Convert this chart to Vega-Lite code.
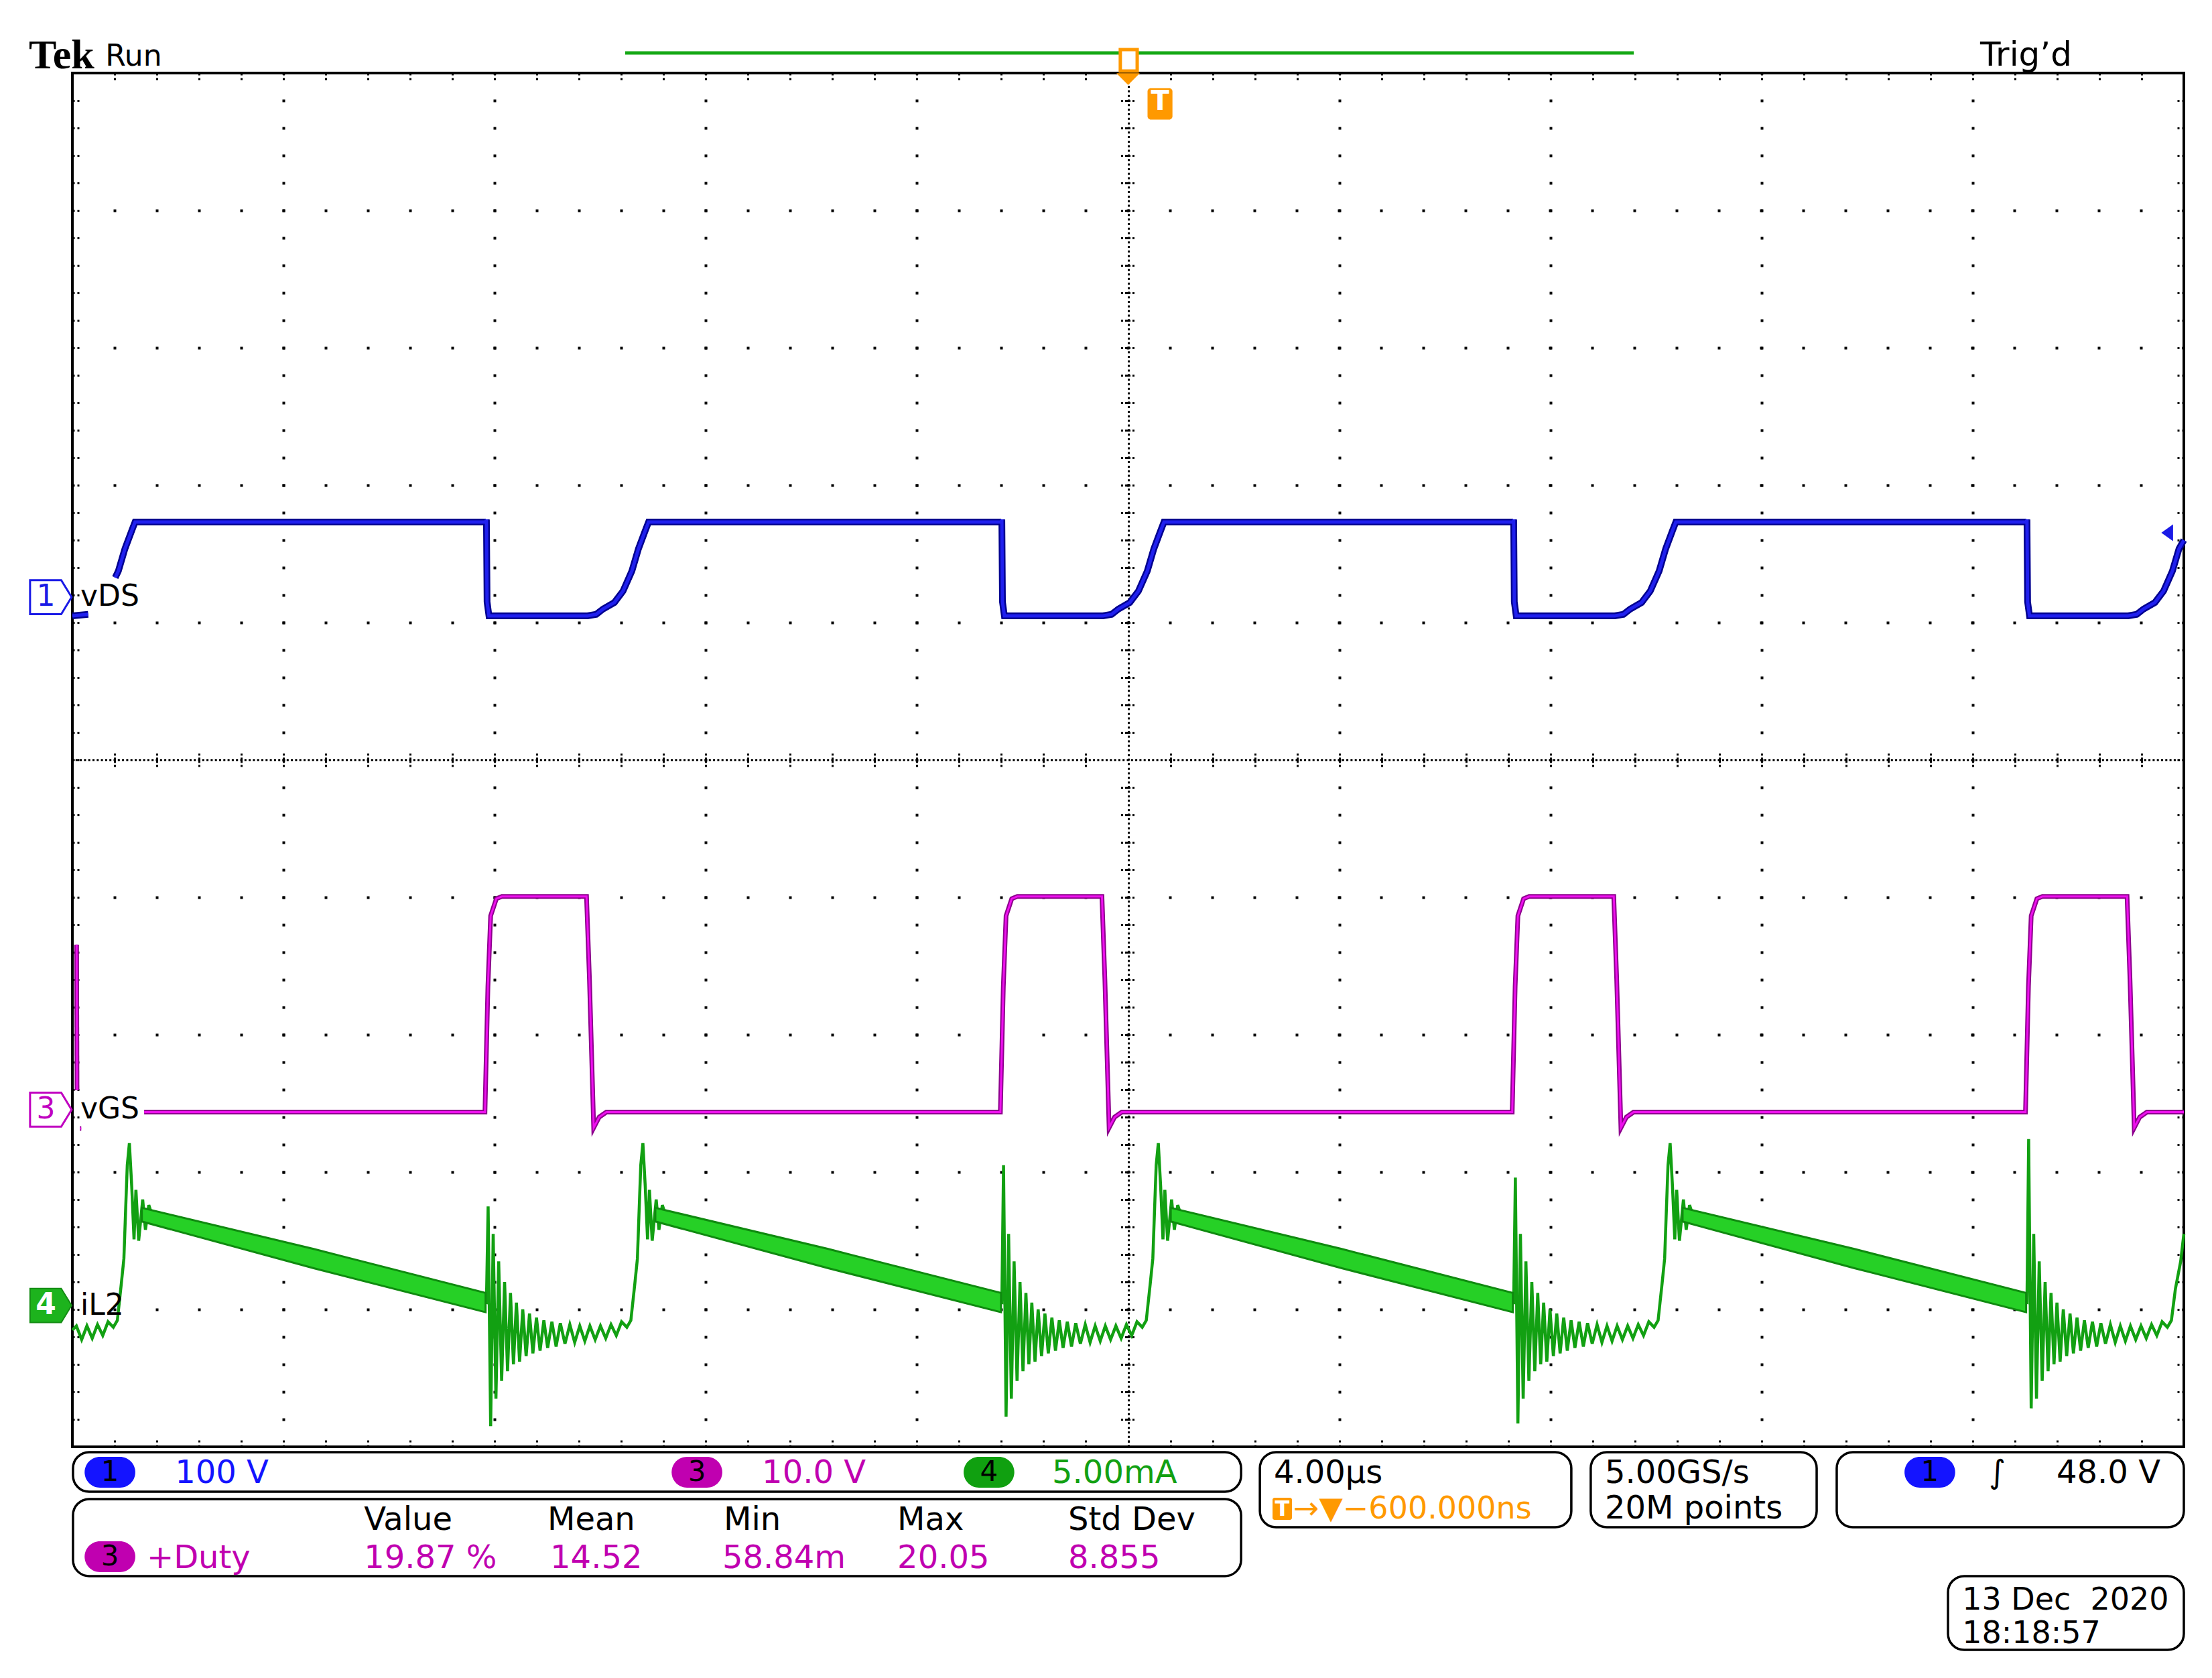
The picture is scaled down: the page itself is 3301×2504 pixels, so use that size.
{
  "$schema": "https://vega.github.io/schema/vega-lite/v6.json",
  "width": 3151,
  "height": 2050,
  "autosize": {"type": "none"},
  "padding": {"left": 108, "top": 109, "right": 42, "bottom": 345},
  "background": "white",
  "config": {"view": {"stroke": null}, "text": {"font": "DejaVu Sans"}},
  "resolve": {"axis": {"x": "independent", "y": "independent"}},
  "encoding": {
    "x": {"field": "x", "type": "quantitative", "scale": {"domain": [0, 10], "nice": false, "zero": false}, "axis": null},
    "y": {"field": "y", "type": "quantitative", "scale": {"domain": [-5, 5], "nice": false, "zero": false}, "axis": null}
  },
  "layer": [
    {
      "data": {"values": [{"x": 0, "x2": 10, "y": -5, "y2": 5}]},
      "mark": {"type": "rect", "fill": "white", "fillOpacity": 0, "stroke": "black", "strokeWidth": 4},
      "encoding": {
        "x": {"field": "x", "type": "quantitative", "scale": {"domain": [0, 10], "nice": false, "zero": false},
          "axis": {"orient": "bottom", "values": [0,0.2,0.4,0.6,0.8,1,1.2,1.4,1.6,1.8,2,2.2,2.4,2.6,2.8,3,3.2,3.4,3.6,3.8,4,4.2,4.4,4.6,4.8,5,5.2,5.4,5.6,5.8,6,6.2,6.4,6.6,6.8,7,7.2,7.4,7.6,7.8,8,8.2,8.4,8.6,8.8,9,9.2,9.4,9.6,9.8,10],
            "labels": false, "title": null, "domain": false, "ticks": true, "tickSize": -10, "tickWidth": 3, "tickColor": "black", "tickDash": [3, 4],
            "grid": true, "gridColor": "black",
            "gridWidth": {"condition": {"test": "datum.value === 5", "value": 3}, "value": 4},
            "gridDash": {"condition": {"test": "datum.value === 5", "value": [3, 3.83]}, "value": [4, 37]},
            "gridDashOffset": 2,
            "gridOpacity": {"condition": {"test": "datum.value % 1 === 0 && datum.value > 0 && datum.value < 10", "value": 1}, "value": 0}}},
        "x2": {"field": "x2"},
        "y": {"field": "y", "type": "quantitative", "scale": {"domain": [-5, 5], "nice": false, "zero": false},
          "axis": {"orient": "left", "values": [-5,-4.8,-4.6,-4.4,-4.2,-4,-3.8,-3.6,-3.4,-3.2,-3,-2.8,-2.6,-2.4,-2.2,-2,-1.8,-1.6,-1.4,-1.2,-1,-0.8,-0.6,-0.4,-0.2,0,0.2,0.4,0.6,0.8,1,1.2,1.4,1.6,1.8,2,2.2,2.4,2.6,2.8,3,3.2,3.4,3.6,3.8,4,4.2,4.4,4.6,4.8,5],
            "labels": false, "title": null, "domain": false, "ticks": true, "tickSize": -10, "tickWidth": 3, "tickColor": "black", "tickDash": [3, 4],
            "grid": true, "gridColor": "black",
            "gridWidth": {"condition": {"test": "datum.value === 0", "value": 3}, "value": 4},
            "gridDash": {"condition": {"test": "datum.value === 0", "value": [3, 3.3]}, "value": [4, 59]},
            "gridDashOffset": 2,
            "gridOpacity": {"condition": {"test": "datum.value % 1 === 0 && datum.value > -5 && datum.value < 5", "value": 1}, "value": 0}}},
        "y2": {"field": "y2"}
      }
    },
    {
      "data": {"values": [{"x": 2.618, "x2": 7.395, "y": 5.146}]},
      "mark": {"type": "rule", "stroke": "#14a814", "strokeWidth": 5},
      "encoding": {
        "x": {"field": "x", "type": "quantitative", "scale": {"domain": [0, 10], "nice": false, "zero": false},
          "axis": {"orient": "top", "values": [0,0.2,0.4,0.6,0.8,1,1.2,1.4,1.6,1.8,2,2.2,2.4,2.6,2.8,3,3.2,3.4,3.6,3.8,4,4.2,4.4,4.6,4.8,5,5.2,5.4,5.6,5.8,6,6.2,6.4,6.6,6.8,7,7.2,7.4,7.6,7.8,8,8.2,8.4,8.6,8.8,9,9.2,9.4,9.6,9.8,10],
            "labels": false, "title": null, "domain": false, "ticks": true, "tickSize": -10, "tickWidth": 3, "tickColor": "black", "tickDash": [3, 4], "grid": false}},
        "x2": {"field": "x2"},
        "y": {"field": "y", "type": "quantitative", "scale": {"domain": [-5, 5], "nice": false, "zero": false},
          "axis": {"orient": "right", "values": [-5,-4.8,-4.6,-4.4,-4.2,-4,-3.8,-3.6,-3.4,-3.2,-3,-2.8,-2.6,-2.4,-2.2,-2,-1.8,-1.6,-1.4,-1.2,-1,-0.8,-0.6,-0.4,-0.2,0,0.2,0.4,0.6,0.8,1,1.2,1.4,1.6,1.8,2,2.2,2.4,2.6,2.8,3,3.2,3.4,3.6,3.8,4,4.2,4.4,4.6,4.8,5],
            "labels": false, "title": null, "domain": false, "ticks": true, "tickSize": -10, "tickWidth": 3, "tickColor": "black", "tickDash": [3, 4], "grid": false}}
      }
    },
    {
      "data": {"values": [{"x": 5.0, "y": 4.956}]},
      "mark": {"type": "point", "shape": "M -1 -0.5 L 1 -0.5 L 0 0.5 Z", "size": 1225, "filled": true, "fill": "#ff9900", "opacity": 1},
      "encoding": {
        "x": {"field": "x", "type": "quantitative", "scale": {"domain": [0, 10], "nice": false, "zero": false},
          "axis": {"orient": "bottom", "offset": -1015, "values": [0.2,0.4,0.6,0.8,1,1.2,1.4,1.6,1.8,2,2.2,2.4,2.6,2.8,3,3.2,3.4,3.6,3.8,4,4.2,4.4,4.6,4.8,5.2,5.4,5.6,5.8,6,6.2,6.4,6.6,6.8,7,7.2,7.4,7.6,7.8,8,8.2,8.4,8.6,8.8,9,9.2,9.4,9.6,9.8],
            "labels": false, "title": null, "domain": false, "ticks": true, "tickSize": -20, "tickWidth": 3, "tickColor": "black", "tickDash": [3, 3, 8, 3, 3], "grid": false}},
        "y": {"field": "y", "type": "quantitative", "scale": {"domain": [-5, 5], "nice": false, "zero": false},
          "axis": {"orient": "left", "offset": -1564.5, "values": [-4.8,-4.6,-4.4,-4.2,-4,-3.8,-3.6,-3.4,-3.2,-3,-2.8,-2.6,-2.4,-2.2,-2,-1.8,-1.6,-1.4,-1.2,-1,-0.8,-0.6,-0.4,-0.2,0.2,0.4,0.6,0.8,1,1.2,1.4,1.6,1.8,2,2.2,2.4,2.6,2.8,3,3.2,3.4,3.6,3.8,4,4.2,4.4,4.6,4.8],
            "labels": false, "title": null, "domain": false, "ticks": true, "tickSize": -22, "tickWidth": 3, "tickColor": "black", "tickDash": [3, 3, 8, 3, 3], "grid": false}}
      }
    },
    {
      "data": {"values": [{"x": 4.963, "x2": 5.043, "y": 5.015, "y2": 5.171}]},
      "mark": {"type": "rect", "fill": "white", "stroke": "#ff9900", "strokeWidth": 5},
      "encoding": {"x2": {"field": "x2"}, "y2": {"field": "y2"}}
    },
    {
      "data": {"values": [{"x": 5.092, "x2": 5.210, "y": 4.661, "y2": 4.890}]},
      "mark": {"type": "rect", "fill": "#ff9900", "cornerRadius": 5},
      "encoding": {"x2": {"field": "x2"}, "y2": {"field": "y2"}}
    },
    {
      "data": {"values": [{"x": 5.151, "y": 4.79, "label": "T"}]},
      "mark": {"type": "text", "fontSize": 40, "fontWeight": "bold", "color": "white", "align": "center", "baseline": "middle"},
      "encoding": {"text": {"field": "label"}}
    },
    {
      "data": {"values": [
        {"x": 0, "y": 1.049, "s": 0}, {"x": 0.075, "y": 1.06, "s": 0},
        {"x": 0.203, "y": 1.327, "s": 1}, {"x": 0.218, "y": 1.376, "s": 1}, {"x": 0.249, "y": 1.537, "s": 1}, {"x": 0.281, "y": 1.668, "s": 1}, {"x": 0.297, "y": 1.732, "s": 1},
        {"x": 1.958, "y": 1.732, "s": 1}, {"x": 1.961, "y": 1.75, "s": 1}, {"x": 1.964, "y": 1.15, "s": 1}, {"x": 1.973, "y": 1.049, "s": 1},
        {"x": 2.440, "y": 1.049, "s": 1}, {"x": 2.481, "y": 1.06, "s": 1}, {"x": 2.513, "y": 1.098, "s": 1}, {"x": 2.567, "y": 1.146, "s": 1}, {"x": 2.608, "y": 1.229, "s": 1}, {"x": 2.650, "y": 1.376, "s": 1}, {"x": 2.681, "y": 1.537, "s": 1}, {"x": 2.713, "y": 1.668, "s": 1}, {"x": 2.729, "y": 1.732, "s": 1},
        {"x": 4.399, "y": 1.732, "s": 1}, {"x": 4.402, "y": 1.75, "s": 1}, {"x": 4.405, "y": 1.15, "s": 1}, {"x": 4.414, "y": 1.049, "s": 1},
        {"x": 4.881, "y": 1.049, "s": 1}, {"x": 4.922, "y": 1.06, "s": 1}, {"x": 4.954, "y": 1.098, "s": 1}, {"x": 5.008, "y": 1.146, "s": 1}, {"x": 5.049, "y": 1.229, "s": 1}, {"x": 5.091, "y": 1.376, "s": 1}, {"x": 5.122, "y": 1.537, "s": 1}, {"x": 5.154, "y": 1.668, "s": 1}, {"x": 5.170, "y": 1.732, "s": 1},
        {"x": 6.823, "y": 1.732, "s": 1}, {"x": 6.826, "y": 1.75, "s": 1}, {"x": 6.829, "y": 1.15, "s": 1}, {"x": 6.838, "y": 1.049, "s": 1},
        {"x": 7.305, "y": 1.049, "s": 1}, {"x": 7.346, "y": 1.06, "s": 1}, {"x": 7.378, "y": 1.098, "s": 1}, {"x": 7.432, "y": 1.146, "s": 1}, {"x": 7.473, "y": 1.229, "s": 1}, {"x": 7.515, "y": 1.376, "s": 1}, {"x": 7.546, "y": 1.537, "s": 1}, {"x": 7.578, "y": 1.668, "s": 1}, {"x": 7.594, "y": 1.732, "s": 1},
        {"x": 9.254, "y": 1.732, "s": 1}, {"x": 9.257, "y": 1.75, "s": 1}, {"x": 9.260, "y": 1.15, "s": 1}, {"x": 9.269, "y": 1.049, "s": 1},
        {"x": 9.736, "y": 1.049, "s": 1}, {"x": 9.777, "y": 1.06, "s": 1}, {"x": 9.809, "y": 1.098, "s": 1}, {"x": 9.863, "y": 1.146, "s": 1}, {"x": 9.904, "y": 1.229, "s": 1}, {"x": 9.946, "y": 1.376, "s": 1}, {"x": 9.977, "y": 1.537, "s": 1}, {"x": 10.0, "y": 1.60, "s": 1}
      ], "name": "vds"},
      "layer": [
        {"mark": {"type": "line", "stroke": "#00008f", "strokeWidth": 10, "strokeJoin": "miter"}, "encoding": {"detail": {"field": "s"}}},
        {"mark": {"type": "line", "stroke": "#2020ee", "strokeWidth": 5}, "encoding": {"detail": {"field": "s"}}}
      ]
    },
    {
      "data": {"values": [
        {"x": 0.020, "y": -1.345, "s": 0}, {"x": 0.022, "y": -2.405, "s": 0},
        {"x": 0.036, "y": -2.683, "s": 1}, {"x": 0.042, "y": -2.683, "s": 1},
        {"x": 0.340, "y": -2.564, "s": 2}, {"x": 1.954, "y": -2.564, "s": 2}, {"x": 1.968, "y": -1.65, "s": 2}, {"x": 1.981, "y": -1.135, "s": 2}, {"x": 2.008, "y": -1.01, "s": 2}, {"x": 2.034, "y": -0.994, "s": 2},
        {"x": 2.435, "y": -0.994, "s": 2}, {"x": 2.449, "y": -1.6, "s": 2}, {"x": 2.469, "y": -2.677, "s": 2}, {"x": 2.495, "y": -2.60, "s": 2}, {"x": 2.529, "y": -2.564, "s": 2},
        {"x": 4.395, "y": -2.564, "s": 2}, {"x": 4.409, "y": -1.65, "s": 2}, {"x": 4.422, "y": -1.135, "s": 2}, {"x": 4.449, "y": -1.01, "s": 2}, {"x": 4.475, "y": -0.994, "s": 2},
        {"x": 4.876, "y": -0.994, "s": 2}, {"x": 4.890, "y": -1.6, "s": 2}, {"x": 4.910, "y": -2.677, "s": 2}, {"x": 4.936, "y": -2.60, "s": 2}, {"x": 4.970, "y": -2.564, "s": 2},
        {"x": 6.819, "y": -2.564, "s": 2}, {"x": 6.833, "y": -1.65, "s": 2}, {"x": 6.846, "y": -1.135, "s": 2}, {"x": 6.873, "y": -1.01, "s": 2}, {"x": 6.899, "y": -0.994, "s": 2},
        {"x": 7.300, "y": -0.994, "s": 2}, {"x": 7.314, "y": -1.6, "s": 2}, {"x": 7.334, "y": -2.677, "s": 2}, {"x": 7.360, "y": -2.60, "s": 2}, {"x": 7.394, "y": -2.564, "s": 2},
        {"x": 9.250, "y": -2.564, "s": 2}, {"x": 9.264, "y": -1.65, "s": 2}, {"x": 9.277, "y": -1.135, "s": 2}, {"x": 9.304, "y": -1.01, "s": 2}, {"x": 9.330, "y": -0.994, "s": 2},
        {"x": 9.731, "y": -0.994, "s": 2}, {"x": 9.745, "y": -1.6, "s": 2}, {"x": 9.765, "y": -2.677, "s": 2}, {"x": 9.791, "y": -2.60, "s": 2}, {"x": 9.825, "y": -2.564, "s": 2}, {"x": 10.0, "y": -2.564, "s": 2}
      ], "name": "vgs"},
      "layer": [
        {"mark": {"type": "line", "stroke": "#8c008c", "strokeWidth": 7}, "encoding": {"detail": {"field": "s"}}},
        {"mark": {"type": "line", "stroke": "#ee10ee", "strokeWidth": 3}, "encoding": {"detail": {"field": "s"}}}
      ]
    },
    {
      "data": {"values": [
        {"x": 0.000, "y": -4.15}, {"x": 0.019, "y": -4.12}, {"x": 0.044, "y": -4.22}, {"x": 0.069, "y": -4.12}, {"x": 0.094, "y": -4.21}, {"x": 0.119, "y": -4.11}, {"x": 0.144, "y": -4.19}, {"x": 0.169, "y": -4.09}, {"x": 0.194, "y": -4.13}, {"x": 0.213, "y": -4.08},
        {"x": 0.232, "y": -3.81}, {"x": 0.244, "y": -3.63}, {"x": 0.254, "y": -3.20}, {"x": 0.260, "y": -2.95}, {"x": 0.270, "y": -2.79}, {"x": 0.281, "y": -3.10}, {"x": 0.292, "y": -3.49}, {"x": 0.301, "y": -3.13}, {"x": 0.314, "y": -3.50}, {"x": 0.333, "y": -3.20}, {"x": 0.346, "y": -3.42}, {"x": 0.362, "y": -3.24}, {"x": 0.387, "y": -3.36},
        {"x": 1.961, "y": -3.95}, {"x": 1.969, "y": -3.25}, {"x": 1.981, "y": -4.85}, {"x": 1.993, "y": -3.45}, {"x": 2.006, "y": -4.65}, {"x": 2.019, "y": -3.65}, {"x": 2.033, "y": -4.52}, {"x": 2.047, "y": -3.80}, {"x": 2.061, "y": -4.45}, {"x": 2.075, "y": -3.88}, {"x": 2.089, "y": -4.40}, {"x": 2.103, "y": -3.95}, {"x": 2.118, "y": -4.38}, {"x": 2.133, "y": -4.00}, {"x": 2.149, "y": -4.34}, {"x": 2.165, "y": -4.03}, {"x": 2.181, "y": -4.32}, {"x": 2.198, "y": -4.06}, {"x": 2.215, "y": -4.30}, {"x": 2.233, "y": -4.08}, {"x": 2.251, "y": -4.28}, {"x": 2.271, "y": -4.09}, {"x": 2.291, "y": -4.27}, {"x": 2.311, "y": -4.10}, {"x": 2.333, "y": -4.25}, {"x": 2.356, "y": -4.11}, {"x": 2.379, "y": -4.24}, {"x": 2.403, "y": -4.12}, {"x": 2.427, "y": -4.23}, {"x": 2.451, "y": -4.12}, {"x": 2.476, "y": -4.22}, {"x": 2.501, "y": -4.12}, {"x": 2.526, "y": -4.21}, {"x": 2.551, "y": -4.11}, {"x": 2.576, "y": -4.19}, {"x": 2.601, "y": -4.09}, {"x": 2.626, "y": -4.13}, {"x": 2.645, "y": -4.08},
        {"x": 2.664, "y": -3.81}, {"x": 2.676, "y": -3.63}, {"x": 2.686, "y": -3.20}, {"x": 2.692, "y": -2.95}, {"x": 2.702, "y": -2.79}, {"x": 2.713, "y": -3.10}, {"x": 2.724, "y": -3.49}, {"x": 2.733, "y": -3.13}, {"x": 2.746, "y": -3.50}, {"x": 2.765, "y": -3.20}, {"x": 2.778, "y": -3.42}, {"x": 2.794, "y": -3.24}, {"x": 2.819, "y": -3.36},
        {"x": 4.402, "y": -3.95}, {"x": 4.410, "y": -2.95}, {"x": 4.422, "y": -4.78}, {"x": 4.434, "y": -3.45}, {"x": 4.447, "y": -4.65}, {"x": 4.460, "y": -3.65}, {"x": 4.474, "y": -4.52}, {"x": 4.488, "y": -3.80}, {"x": 4.502, "y": -4.45}, {"x": 4.516, "y": -3.88}, {"x": 4.530, "y": -4.40}, {"x": 4.544, "y": -3.95}, {"x": 4.559, "y": -4.38}, {"x": 4.574, "y": -4.00}, {"x": 4.590, "y": -4.34}, {"x": 4.606, "y": -4.03}, {"x": 4.622, "y": -4.32}, {"x": 4.639, "y": -4.06}, {"x": 4.656, "y": -4.30}, {"x": 4.674, "y": -4.08}, {"x": 4.692, "y": -4.28}, {"x": 4.712, "y": -4.09}, {"x": 4.732, "y": -4.27}, {"x": 4.752, "y": -4.10}, {"x": 4.774, "y": -4.25}, {"x": 4.797, "y": -4.11}, {"x": 4.820, "y": -4.24}, {"x": 4.844, "y": -4.12}, {"x": 4.868, "y": -4.23}, {"x": 4.892, "y": -4.12}, {"x": 4.917, "y": -4.22}, {"x": 4.942, "y": -4.12}, {"x": 4.967, "y": -4.21}, {"x": 4.992, "y": -4.11}, {"x": 5.017, "y": -4.19}, {"x": 5.042, "y": -4.09}, {"x": 5.067, "y": -4.13}, {"x": 5.086, "y": -4.08},
        {"x": 5.105, "y": -3.81}, {"x": 5.117, "y": -3.63}, {"x": 5.127, "y": -3.20}, {"x": 5.133, "y": -2.95}, {"x": 5.143, "y": -2.79}, {"x": 5.154, "y": -3.10}, {"x": 5.165, "y": -3.49}, {"x": 5.174, "y": -3.13}, {"x": 5.187, "y": -3.50}, {"x": 5.206, "y": -3.20}, {"x": 5.219, "y": -3.42}, {"x": 5.235, "y": -3.24}, {"x": 5.260, "y": -3.36},
        {"x": 6.826, "y": -3.95}, {"x": 6.834, "y": -3.04}, {"x": 6.846, "y": -4.83}, {"x": 6.858, "y": -3.45}, {"x": 6.871, "y": -4.65}, {"x": 6.884, "y": -3.65}, {"x": 6.898, "y": -4.52}, {"x": 6.912, "y": -3.80}, {"x": 6.926, "y": -4.45}, {"x": 6.940, "y": -3.88}, {"x": 6.954, "y": -4.40}, {"x": 6.968, "y": -3.95}, {"x": 6.983, "y": -4.38}, {"x": 6.998, "y": -4.00}, {"x": 7.014, "y": -4.34}, {"x": 7.030, "y": -4.03}, {"x": 7.046, "y": -4.32}, {"x": 7.063, "y": -4.06}, {"x": 7.080, "y": -4.30}, {"x": 7.098, "y": -4.08}, {"x": 7.116, "y": -4.28}, {"x": 7.136, "y": -4.09}, {"x": 7.156, "y": -4.27}, {"x": 7.176, "y": -4.10}, {"x": 7.198, "y": -4.25}, {"x": 7.221, "y": -4.11}, {"x": 7.244, "y": -4.24}, {"x": 7.268, "y": -4.12}, {"x": 7.292, "y": -4.23}, {"x": 7.316, "y": -4.12}, {"x": 7.341, "y": -4.22}, {"x": 7.366, "y": -4.12}, {"x": 7.391, "y": -4.21}, {"x": 7.416, "y": -4.11}, {"x": 7.441, "y": -4.19}, {"x": 7.466, "y": -4.09}, {"x": 7.491, "y": -4.13}, {"x": 7.510, "y": -4.08},
        {"x": 7.529, "y": -3.81}, {"x": 7.541, "y": -3.63}, {"x": 7.551, "y": -3.20}, {"x": 7.557, "y": -2.95}, {"x": 7.567, "y": -2.79}, {"x": 7.578, "y": -3.10}, {"x": 7.589, "y": -3.49}, {"x": 7.598, "y": -3.13}, {"x": 7.611, "y": -3.50}, {"x": 7.630, "y": -3.20}, {"x": 7.643, "y": -3.42}, {"x": 7.659, "y": -3.24}, {"x": 7.684, "y": -3.36},
        {"x": 9.257, "y": -3.95}, {"x": 9.265, "y": -2.76}, {"x": 9.277, "y": -4.72}, {"x": 9.289, "y": -3.45}, {"x": 9.302, "y": -4.65}, {"x": 9.315, "y": -3.65}, {"x": 9.329, "y": -4.52}, {"x": 9.343, "y": -3.80}, {"x": 9.357, "y": -4.45}, {"x": 9.371, "y": -3.88}, {"x": 9.385, "y": -4.40}, {"x": 9.399, "y": -3.95}, {"x": 9.414, "y": -4.38}, {"x": 9.429, "y": -4.00}, {"x": 9.445, "y": -4.34}, {"x": 9.461, "y": -4.03}, {"x": 9.477, "y": -4.32}, {"x": 9.494, "y": -4.06}, {"x": 9.511, "y": -4.30}, {"x": 9.529, "y": -4.08}, {"x": 9.547, "y": -4.28}, {"x": 9.567, "y": -4.09}, {"x": 9.587, "y": -4.27}, {"x": 9.607, "y": -4.10}, {"x": 9.629, "y": -4.25}, {"x": 9.652, "y": -4.11}, {"x": 9.675, "y": -4.24}, {"x": 9.699, "y": -4.12}, {"x": 9.723, "y": -4.23}, {"x": 9.747, "y": -4.12}, {"x": 9.772, "y": -4.22}, {"x": 9.797, "y": -4.12}, {"x": 9.822, "y": -4.21}, {"x": 9.847, "y": -4.11}, {"x": 9.872, "y": -4.19}, {"x": 9.897, "y": -4.09}, {"x": 9.922, "y": -4.13}, {"x": 9.941, "y": -4.08},
        {"x": 9.960, "y": -3.85}, {"x": 9.985, "y": -3.65}, {"x": 10.0, "y": -3.45}
      ], "name": "il2"},
      "mark": {"type": "line", "stroke": "#12a012", "strokeWidth": 4.5},
      "encoding": {}
    },
    {
      "data": {"values": [
        {"x": 0.329, "y": -3.36, "y2": -3.26, "s": 0}, {"x": 1.143, "y": -3.70, "y2": -3.56, "s": 0}, {"x": 1.957, "y": -4.02, "y2": -3.88, "s": 0},
        {"x": 2.761, "y": -3.36, "y2": -3.26, "s": 1}, {"x": 3.580, "y": -3.70, "y2": -3.56, "s": 1}, {"x": 4.398, "y": -4.02, "y2": -3.88, "s": 1},
        {"x": 5.202, "y": -3.36, "y2": -3.26, "s": 2}, {"x": 6.012, "y": -3.70, "y2": -3.56, "s": 2}, {"x": 6.822, "y": -4.02, "y2": -3.88, "s": 2},
        {"x": 7.626, "y": -3.36, "y2": -3.26, "s": 3}, {"x": 8.440, "y": -3.70, "y2": -3.56, "s": 3}, {"x": 9.253, "y": -4.02, "y2": -3.88, "s": 3}
      ], "name": "il2band"},
      "mark": {"type": "area", "fill": "#26d026", "stroke": "#0f8a0f", "strokeWidth": 3, "opacity": 1},
      "encoding": {"y2": {"field": "y2"}, "detail": {"field": "s"}}
    },
    {
      "data": {"values": [{"x": 9.921, "y": 1.654}]},
      "mark": {"type": "point", "shape": "M -0.7 0 L 0.7 -1 L 0.7 1 Z", "size": 625, "filled": true, "fill": "#1a1ae6", "opacity": 1}
    },
    {
      "data": {"values": [{"x": -0.102, "y": 1.185}]},
      "mark": {"type": "point", "shape": "M -1 -0.82 L 0.5 -0.82 L 1 0 L 0.5 0.82 L -1 0.82 Z", "size": 3844, "filled": true, "fill": "white", "stroke": "#1a1ae6", "strokeWidth": 3, "opacity": 1}
    },
    {
      "data": {"values": [{"x": -0.102, "y": -2.546}]},
      "mark": {"type": "point", "shape": "M -1 -0.82 L 0.5 -0.82 L 1 0 L 0.5 0.82 L -1 0.82 Z", "size": 3844, "filled": true, "fill": "white", "stroke": "#c000c0", "strokeWidth": 3, "opacity": 1}
    },
    {
      "data": {"values": [{"x": -0.102, "y": -3.971}]},
      "mark": {"type": "point", "shape": "M -1 -0.82 L 0.5 -0.82 L 1 0 L 0.5 0.82 L -1 0.82 Z", "size": 3844, "filled": true, "fill": "#1db31d", "stroke": "#148c14", "strokeWidth": 2, "opacity": 1}
    },
    {
      "data": {"values": [{"x": -0.125, "y": 1.185, "label": "1"}]},
      "mark": {"type": "text", "fontSize": 44, "color": "#1a1ae6", "align": "center", "baseline": "middle"},
      "encoding": {"text": {"field": "label"}}
    },
    {
      "data": {"values": [{"x": -0.125, "y": -2.546, "label": "3"}]},
      "mark": {"type": "text", "fontSize": 44, "color": "#c000c0", "align": "center", "baseline": "middle"},
      "encoding": {"text": {"field": "label"}}
    },
    {
      "data": {"values": [{"x": -0.125, "y": -3.971, "label": "4"}]},
      "mark": {"type": "text", "fontSize": 44, "fontWeight": "bold", "color": "white", "align": "center", "baseline": "middle"},
      "encoding": {"text": {"field": "label"}}
    },
    {
      "data": {"values": [{"x": 0.038, "y": 1.122, "label": "vDS"}, {"x": 0.038, "y": -2.610, "label": "vGS"}, {"x": 0.038, "y": -4.039, "label": "iL2"}]},
      "mark": {"type": "text", "fontSize": 44, "color": "black", "align": "left", "baseline": "alphabetic"},
      "encoding": {"text": {"field": "label"}}
    },
    {
      "data": {"values": [{"x": -0.206, "y": 5.034, "label": "Tek"}]},
      "mark": {"type": "text", "font": "Liberation Serif", "fontWeight": "bold", "fontSize": 62, "color": "black", "align": "left", "baseline": "alphabetic"},
      "encoding": {"text": {"field": "label"}}
    },
    {
      "data": {"values": [{"x": 0.156, "y": 5.054, "label": "Run"}]},
      "mark": {"type": "text", "fontSize": 44, "color": "black", "align": "left", "baseline": "alphabetic"},
      "encoding": {"text": {"field": "label"}}
    },
    {
      "data": {"values": [{"x": 9.035, "y": 5.054, "label": "Trig’d"}]},
      "mark": {"type": "text", "fontSize": 50, "color": "black", "align": "left", "baseline": "alphabetic"},
      "encoding": {"text": {"field": "label"}}
    },
    {
      "data": {"values": [
        {"x": 0.003, "x2": 5.535, "y": -5.327, "y2": -5.039},
        {"x": 0.003, "x2": 5.535, "y": -5.941, "y2": -5.380},
        {"x": 5.624, "x2": 7.099, "y": -5.585, "y2": -5.039},
        {"x": 7.191, "x2": 8.261, "y": -5.585, "y2": -5.039},
        {"x": 8.356, "x2": 10.0, "y": -5.585, "y2": -5.039},
        {"x": 8.883, "x2": 10.0, "y": -6.478, "y2": -5.941}
      ]},
      "mark": {"type": "rect", "fill": "white", "fillOpacity": 0, "stroke": "black", "strokeWidth": 3.5, "cornerRadius": 24},
      "encoding": {"x2": {"field": "x2"}, "y2": {"field": "y2"}}
    },
    {
      "data": {"values": [{"x": 0.058, "x2": 0.298, "y": -5.297, "y2": -5.073}, {"x": 8.677, "x2": 8.917, "y": -5.297, "y2": -5.073}]},
      "mark": {"type": "rect", "fill": "#1414ff", "cornerRadius": 23},
      "encoding": {"x2": {"field": "x2"}, "y2": {"field": "y2"}}
    },
    {
      "data": {"values": [{"x": 2.838, "x2": 3.078, "y": -5.297, "y2": -5.073}, {"x": 0.058, "x2": 0.298, "y": -5.912, "y2": -5.688}]},
      "mark": {"type": "rect", "fill": "#c000b0", "cornerRadius": 23},
      "encoding": {"x2": {"field": "x2"}, "y2": {"field": "y2"}}
    },
    {
      "data": {"values": [{"x": 4.221, "x2": 4.461, "y": -5.297, "y2": -5.073}]},
      "mark": {"type": "rect", "fill": "#10a010", "cornerRadius": 23},
      "encoding": {"x2": {"field": "x2"}, "y2": {"field": "y2"}}
    },
    {
      "data": {"values": [
        {"x": 0.178, "y": -5.185, "label": "1"}, {"x": 2.958, "y": -5.185, "label": "3"}, {"x": 4.341, "y": -5.185, "label": "4"},
        {"x": 0.178, "y": -5.800, "label": "3"}, {"x": 8.797, "y": -5.185, "label": "1"}
      ]},
      "mark": {"type": "text", "fontSize": 42, "color": "black", "align": "center", "baseline": "middle"},
      "encoding": {"text": {"field": "label"}}
    },
    {
      "data": {"values": [
        {"x": 1.381, "y": -5.605, "label": "Value"}, {"x": 2.250, "y": -5.605, "label": "Mean"}, {"x": 3.085, "y": -5.605, "label": "Min"},
        {"x": 3.907, "y": -5.605, "label": "Max"}, {"x": 4.716, "y": -5.605, "label": "Std Dev"},
        {"x": 5.690, "y": -5.263, "label": "4.00µs"}, {"x": 7.258, "y": -5.263, "label": "5.00GS/s"}, {"x": 7.258, "y": -5.522, "label": "20M points"},
        {"x": 9.077, "y": -5.263, "label": "∫"}, {"x": 9.397, "y": -5.263, "label": "48.0 V"}
      ]},
      "mark": {"type": "text", "fontSize": 48, "color": "black", "align": "left", "baseline": "alphabetic"},
      "encoding": {"text": {"field": "label"}}
    },
    {
      "data": {"values": [{"x": 0.486, "y": -5.263, "label": "100 V"}]},
      "mark": {"type": "text", "fontSize": 48, "color": "#1414ff", "align": "left", "baseline": "alphabetic"},
      "encoding": {"text": {"field": "label"}}
    },
    {
      "data": {"values": [
        {"x": 3.266, "y": -5.263, "label": "10.0 V"}, {"x": 0.352, "y": -5.883, "label": "+Duty"},
        {"x": 1.381, "y": -5.883, "label": "19.87 %"}, {"x": 2.263, "y": -5.883, "label": "14.52"}, {"x": 3.078, "y": -5.883, "label": "58.84m"},
        {"x": 3.907, "y": -5.883, "label": "20.05"}, {"x": 4.716, "y": -5.883, "label": "8.855"}
      ]},
      "mark": {"type": "text", "fontSize": 48, "color": "#c000b0", "align": "left", "baseline": "alphabetic"},
      "encoding": {"text": {"field": "label"}}
    },
    {
      "data": {"values": [{"x": 4.640, "y": -5.263, "label": "5.00mA"}]},
      "mark": {"type": "text", "fontSize": 48, "color": "#12a012", "align": "left", "baseline": "alphabetic"},
      "encoding": {"text": {"field": "label"}}
    },
    {
      "data": {"values": [{"x": 5.684, "x2": 5.776, "y": -5.532, "y2": -5.371}]},
      "mark": {"type": "rect", "fill": "#ff9900", "cornerRadius": 3},
      "encoding": {"x2": {"field": "x2"}, "y2": {"field": "y2"}}
    },
    {
      "data": {"values": [{"x": 5.730, "y": -5.452, "label": "T"}]},
      "mark": {"type": "text", "fontSize": 32, "fontWeight": "bold", "color": "white", "align": "center", "baseline": "middle"},
      "encoding": {"text": {"field": "label"}}
    },
    {
      "data": {"values": [{"x": 5.782, "y": -5.522, "label": "→▼−600.000ns"}]},
      "mark": {"type": "text", "fontSize": 46, "color": "#ff9900", "align": "left", "baseline": "alphabetic"},
      "encoding": {"text": {"field": "label"}}
    },
    {
      "data": {"values": [{"x": 8.950, "y": -6.185, "label": "13 Dec\u00a0 2020"}, {"x": 8.950, "y": -6.429, "label": "18:18:57"}]},
      "mark": {"type": "text", "fontSize": 46, "color": "black", "align": "left", "baseline": "alphabetic"},
      "encoding": {"text": {"field": "label"}}
    }
  ]
}
